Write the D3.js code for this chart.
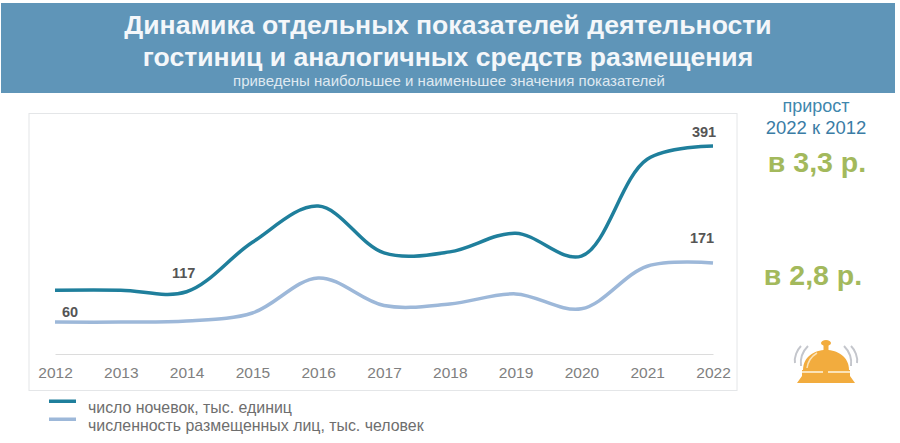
<!DOCTYPE html>
<html>
<head>
<meta charset="utf-8">
<script src="https://cdnjs.cloudflare.com/ajax/libs/d3/7.8.5/d3.min.js"></script>
<style>
html, body { margin: 0; padding: 0; background: #fff; }
text { font-family: "Liberation Sans", Arial, sans-serif; }
</style>
</head>
<body>
<div id="chart"></div>
<script>
var w = 900;
var h = 443;

// values
var years = [2012, 2013, 2014, 2015, 2016, 2017, 2018, 2019, 2020, 2021, 2022];
var nights = [120, 120, 117, 210, 278, 190, 192, 227, 184, 366, 391];
var guests = [60, 60, 62, 77, 143, 91, 94, 113, 85, 165, 171];

var titleLines = ["Динамика отдельных показателей деятельности", "гостиниц и аналогичных средств размещения"];
var subtitle = "приведены наибольшее и наименьшее значения показателей";
var legendLabels = ["число ночевок, тыс. единиц", "численность размещенных лиц, тыс. человек"];

var darkBlue = "#1f7f9c";
var lightBlue = "#9db8d9";

var svg = d3.select("#chart")
	.append("svg")
	.attr("width", w)
	.attr("height", h)
	.style("display", "block");

// header band
svg.append("rect")
	.attr("x", 1).attr("y", 3)
	.attr("width", 894).attr("height", 90)
	.attr("fill", "#5f95b8");

svg.selectAll(".title")
	.data(titleLines)
	.enter().append("text")
	.attr("class", "title")
	.attr("x", 448)
	.attr("y", function(d, i) { return 34 + i * 32; })
	.attr("text-anchor", "middle")
	.attr("font-size", 26.6)
	.attr("font-weight", "bold")
	.attr("fill", "#f4f7fa")
	.text(function(d) { return d; });

svg.append("text")
	.attr("x", 449).attr("y", 86)
	.attr("text-anchor", "middle")
	.attr("font-size", 15)
	.attr("fill", "#dfe9f1")
	.text(subtitle);

// chart panel
svg.append("rect")
	.attr("x", 29).attr("y", 113.5)
	.attr("width", 708).attr("height", 277)
	.attr("fill", "#fff")
	.attr("stroke", "#e4e6e8");

var xScale = d3.scalePoint().domain(years).range([55, 713]);
var yScale = d3.scaleLinear().domain([0, 391]).range([354, 146]);

// x axis
var axis = svg.append("g")
	.attr("transform", "translate(0,354)")
	.call(d3.axisBottom(xScale).tickSize(0).tickPadding(13));
axis.select(".domain").attr("stroke", "#dcdcdc").attr("stroke-width", 1);
axis.selectAll("text")
	.attr("font-size", 15.5)
	.attr("font-family", "Liberation Sans")
	.attr("fill", "#808080");

// lines
var line = d3.line()
	.x(function(d, i) { return xScale(years[i]); })
	.y(function(d) { return yScale(d); })
	.curve(d3.curveCatmullRom.alpha(0.5));

svg.append("path").datum(guests)
	.attr("d", line)
	.attr("fill", "none")
	.attr("stroke", lightBlue)
	.attr("stroke-width", 3.5);

svg.append("path").datum(nights)
	.attr("d", line)
	.attr("fill", "none")
	.attr("stroke", darkBlue)
	.attr("stroke-width", 3.5);

// value labels
var labels = [
	{ year: 2012, value: guests[0], dx: 15, dy: -5 },
	{ year: 2014, value: nights[2], dx: -3, dy: -14 },
	{ year: 2022, value: nights[10], dx: -9, dy: -9 },
	{ year: 2022, value: guests[10], dx: -11, dy: -20 }
];
svg.selectAll(".value")
	.data(labels)
	.enter().append("text")
	.attr("class", "value")
	.attr("x", function(d) { return xScale(d.year) + d.dx; })
	.attr("y", function(d) { return yScale(d.value) + d.dy; })
	.attr("text-anchor", "middle")
	.attr("font-size", 14.5)
	.attr("font-weight", "bold")
	.attr("fill", "#555")
	.text(function(d) { return d.value; });

// legend
var legend = svg.selectAll(".legend")
	.data(legendLabels)
	.enter().append("g")
	.attr("class", "legend")
	.attr("transform", function(d, i) { return "translate(0," + (401 + i * 18) + ")"; });
legend.append("rect")
	.attr("x", 49).attr("y", -1.5)
	.attr("width", 27).attr("height", 3.5)
	.attr("fill", function(d, i) { return i == 0 ? darkBlue : lightBlue; });
legend.append("text")
	.attr("x", 88).attr("y", 12)
	.attr("font-size", 15.9)
	.attr("fill", "#6e6e6e")
	.text(function(d) { return d; });

// right side notes
svg.append("text").attr("x", 816).attr("y", 112)
	.attr("text-anchor", "middle").attr("font-size", 18).attr("fill", "#3f87ad").text("прирост");
svg.append("text").attr("x", 816).attr("y", 134)
	.attr("text-anchor", "middle").attr("font-size", 18.5).attr("fill", "#3a7ca5").text("2022 к 2012");
svg.append("text").attr("x", 817).attr("y", 172)
	.attr("text-anchor", "middle").attr("font-size", 28.5).attr("font-weight", "bold").attr("fill", "#a3b95c").text("в 3,3 р.");
svg.append("text").attr("x", 813).attr("y", 285)
	.attr("text-anchor", "middle").attr("font-size", 28.5).attr("font-weight", "bold").attr("fill", "#a3b95c").text("в 2,8 р.");

// bell icon
var bell = svg.append("g").attr("transform", "translate(826,383)");
bell.append("path")
	.attr("d", "M-29,0 L-24,-7 L-24,-13 L24,-13 L24,-7 L29,0 Z")
	.attr("fill", "#f2ac3e");
bell.append("path")
	.attr("d", "M-23,-13 C-23,-26 -12,-33 0,-33 C12,-33 23,-26 23,-13 Z")
	.attr("fill", "#f2ac3e");
bell.append("rect").attr("x", -2.5).attr("y", -40).attr("width", 5).attr("height", 8).attr("fill", "#f2ac3e");
bell.append("ellipse").attr("cx", 0).attr("cy", -40).attr("rx", 5).attr("ry", 3).attr("fill", "#f2ac3e");
bell.append("path")
	.attr("d", "M-19,-15 C-18,-22 -14,-27 -9,-30")
	.attr("fill", "none").attr("stroke", "#fbe3b8").attr("stroke-width", 1.5);
bell.append("path")
	.attr("d", "M-24,-11 L-3,-11 M2,-11 L24,-11")
	.attr("fill", "none").attr("stroke", "#fbe3b8").attr("stroke-width", 2);
var waves = ["M-25,-17 C-26,-25 -23,-32 -18,-37", "M-31,-20 C-32,-26 -29,-33 -25,-37", "M25,-17 C26,-25 23,-32 18,-37", "M31,-20 C32,-26 29,-33 25,-37"];
bell.selectAll(".wave")
	.data(waves)
	.enter().append("path")
	.attr("class", "wave")
	.attr("d", function(d) { return d; })
	.attr("fill", "none")
	.attr("stroke", "#c4c6cc")
	.attr("stroke-width", 2);
</script>
</body>
</html>
